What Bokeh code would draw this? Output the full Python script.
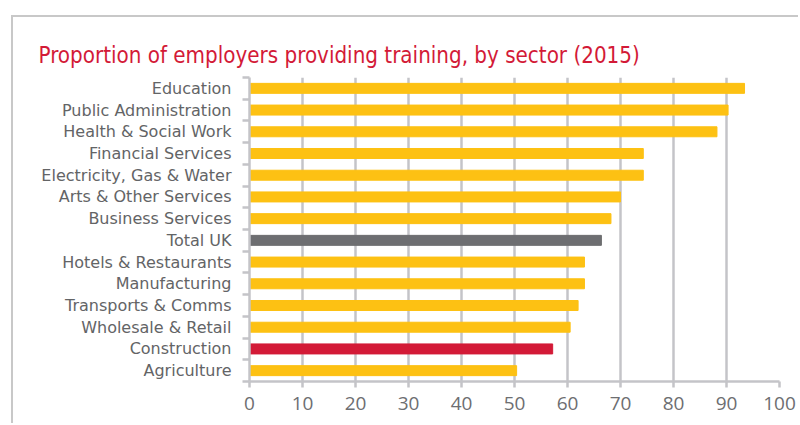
from bokeh.plotting import figure
from bokeh.models import Range1d, FixedTicker, ColumnDataSource
from bokeh.embed import file_html
from bokeh.resources import INLINE

sectors = ["Education", "Public Administration", "Health & Social Work", "Financial Services",
           "Electricity, Gas & Water", "Arts & Other Services", "Business Services", "Total UK",
           "Hotels & Restaurants", "Manufacturing", "Transports & Comms", "Wholesale & Retail",
           "Construction", "Agriculture"]
values = [93.4, 90.3, 88.2, 74.3, 74.3, 70, 68.2, 66.4, 63.2, 63.2, 62, 60.5, 57.2, 50.4]
x_ticks = [0, 10, 20, 30, 40, 50, 60, 70, 80, 90, 100]

YELLOW = "#FDC113"
GREY = "#6D6E71"
RED = "#D31A37"
colors = [GREY if s == "Total UK" else RED if s == "Construction" else YELLOW for s in sectors]

n = len(sectors)
ypos = [n - 1 - i + 0.5 for i in range(n)]

src = ColumnDataSource(dict(y=ypos, v=values, c=colors, s=sectors))

p = figure(width=787, height=408, output_backend="svg", toolbar_location=None,
           title="Proportion of employers providing training, by sector (2015)",
           x_range=Range1d(0, 100), y_range=Range1d(0, n),
           min_border_left=236, min_border_right=21, min_border_top=60, min_border_bottom=44)
p.styles = {"border-left": "2px solid #C8C8C8", "border-top": "2px solid #C8C8C8",
            "margin-left": "11px", "margin-top": "15px"}
p.outline_line_color = None
p.background_fill_color = "white"
p.border_fill_color = "white"

p.title.text_font = "'Liberation Sans Narrow', 'DejaVu Sans Condensed', sans-serif"
p.title.text_font_style = "normal"
p.title.text_font_size = "22.2px"
p.title.text_color = RED
p.title.align = "left"
p.title.offset = -211
p.title.standoff = 19

p.hbar(y="y", right="v", left=0, height=0.46, color="c", source=src)

AX = "#C4C4C8"
LBL = "#636466"

p.xaxis.ticker = FixedTicker(ticks=x_ticks)
p.xaxis.axis_line_color = AX
p.xaxis.axis_line_width = 2.5
p.xaxis.major_tick_line_color = AX
p.xaxis.major_tick_line_width = 2.5
p.xaxis.major_tick_out = 6
p.xaxis.major_tick_in = 0
p.xaxis.minor_tick_line_color = None
p.xaxis.major_label_text_font = "Open Sans"
p.xaxis.major_label_text_font_size = "19px"
p.xaxis.major_label_text_color = "#6D6E71"
p.xaxis.major_label_standoff = 9

p.yaxis.ticker = FixedTicker(ticks=ypos, minor_ticks=list(range(n + 1)))
p.yaxis.major_label_overrides = {y: s for y, s in zip(ypos, sectors)}
p.yaxis.axis_line_color = AX
p.yaxis.axis_line_width = 2.5
p.yaxis.major_tick_line_color = None
p.yaxis.major_tick_out = 0
p.yaxis.major_tick_in = 0
p.yaxis.minor_tick_line_color = AX
p.yaxis.minor_tick_line_width = 2.5
p.yaxis.minor_tick_out = 7
p.yaxis.minor_tick_in = 0
p.yaxis.major_label_text_font = "DejaVu Sans"
p.yaxis.major_label_text_font_size = "16px"
p.yaxis.major_label_text_color = LBL
p.yaxis.major_label_standoff = 11

p.xgrid.ticker = FixedTicker(ticks=x_ticks)
p.xgrid.grid_line_color = AX
p.xgrid.grid_line_width = 2.5
p.ygrid.grid_line_color = None

open("out.html", "w").write(file_html(p, INLINE))
